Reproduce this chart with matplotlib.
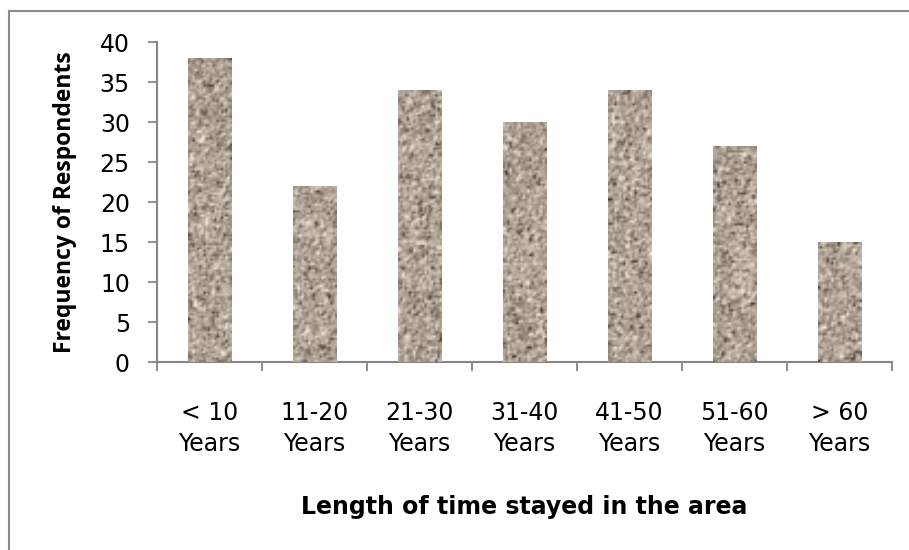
import numpy as np
import matplotlib.pyplot as plt
from matplotlib.patches import Rectangle
from matplotlib.colors import LinearSegmentedColormap

# Datos del gráfico
categorias = ['< 10\nYears', '11-20\nYears', '21-30\nYears', '31-40\nYears',
              '41-50\nYears', '51-60\nYears', '> 60\nYears']
frecuencias = [38, 22, 34, 30, 34, 27, 15]

plt.rcParams['font.family'] = ['DejaVu Sans']

fig = plt.figure(figsize=(9.09, 5.5), dpi=100)
ax = fig.add_axes([157/909, 1 - 362/550, (892 - 157)/909, 320/550])

x = np.arange(len(categorias))
barras = ax.bar(x, frecuencias, width=0.41, color='#a89a8c', zorder=2)

# Textura tipo granito dentro de cada barra (solo estilo)
rng = np.random.default_rng(7)
granito = LinearSegmentedColormap.from_list(
    'granito', ['#4a3f36', '#8b7d71', '#b0a395', '#cdc2b6', '#eee8e0'])
for b in barras:
    x0, y0 = b.get_x(), b.get_y()
    w, h = b.get_width(), b.get_height()
    filas = max(int(h * 8 / 2.2), 2)
    ruido = rng.normal(size=(filas, 20))
    ruido = (ruido + np.roll(ruido, 1, 0) * 0.5 + np.roll(ruido, 1, 1) * 0.5) / 2
    img = ax.imshow(ruido, cmap=granito, vmin=-1.7, vmax=1.7, aspect='auto',
                    extent=(x0, x0 + w, y0, y0 + h), interpolation='bilinear',
                    zorder=3)
    img.set_clip_path(b)

ax.set_xlim(-0.5, len(categorias) - 0.5)
ax.set_ylim(0, 40)
ax.set_yticks(range(0, 41, 5))
ax.set_xticks(np.arange(-0.5, len(categorias), 1.0), minor=False)
ax.set_xticklabels([])
ax.set_xticks(x, minor=True)
ax.set_xticklabels(categorias, minor=True, linespacing=1.38)

gris = '#868686'
for lado in ['top', 'right']:
    ax.spines[lado].set_visible(False)
for lado in ['left', 'bottom']:
    ax.spines[lado].set_color(gris)
    ax.spines[lado].set_linewidth(1.5)

ax.tick_params(axis='y', which='major', direction='out', length=6.5, width=1.3,
               color=gris, labelsize=17, pad=13)
ax.tick_params(axis='x', which='major', direction='out', length=6.5, width=1.3,
               color=gris)
ax.tick_params(axis='x', which='minor', length=0, labelsize=17, pad=28)

ax.set_ylabel('Frequency of Respondents', fontsize=16.5, fontweight='bold',
              family=['Open Sans', 'DejaVu Sans'])
ax.yaxis.set_label_coords(-80/735, 0.5)
ax.set_xlabel('Length of time stayed in the area', fontsize=17,
              fontweight='bold', labelpad=28)

# Marco exterior del gráfico
fig.add_artist(Rectangle((9/909, -0.1), 1.2, 1.1 - 11/550,
                         transform=fig.transFigure, fill=False,
                         edgecolor='#8c8c8c', linewidth=1.5))

plt.savefig('out.png', dpi=100)
plt.close()
